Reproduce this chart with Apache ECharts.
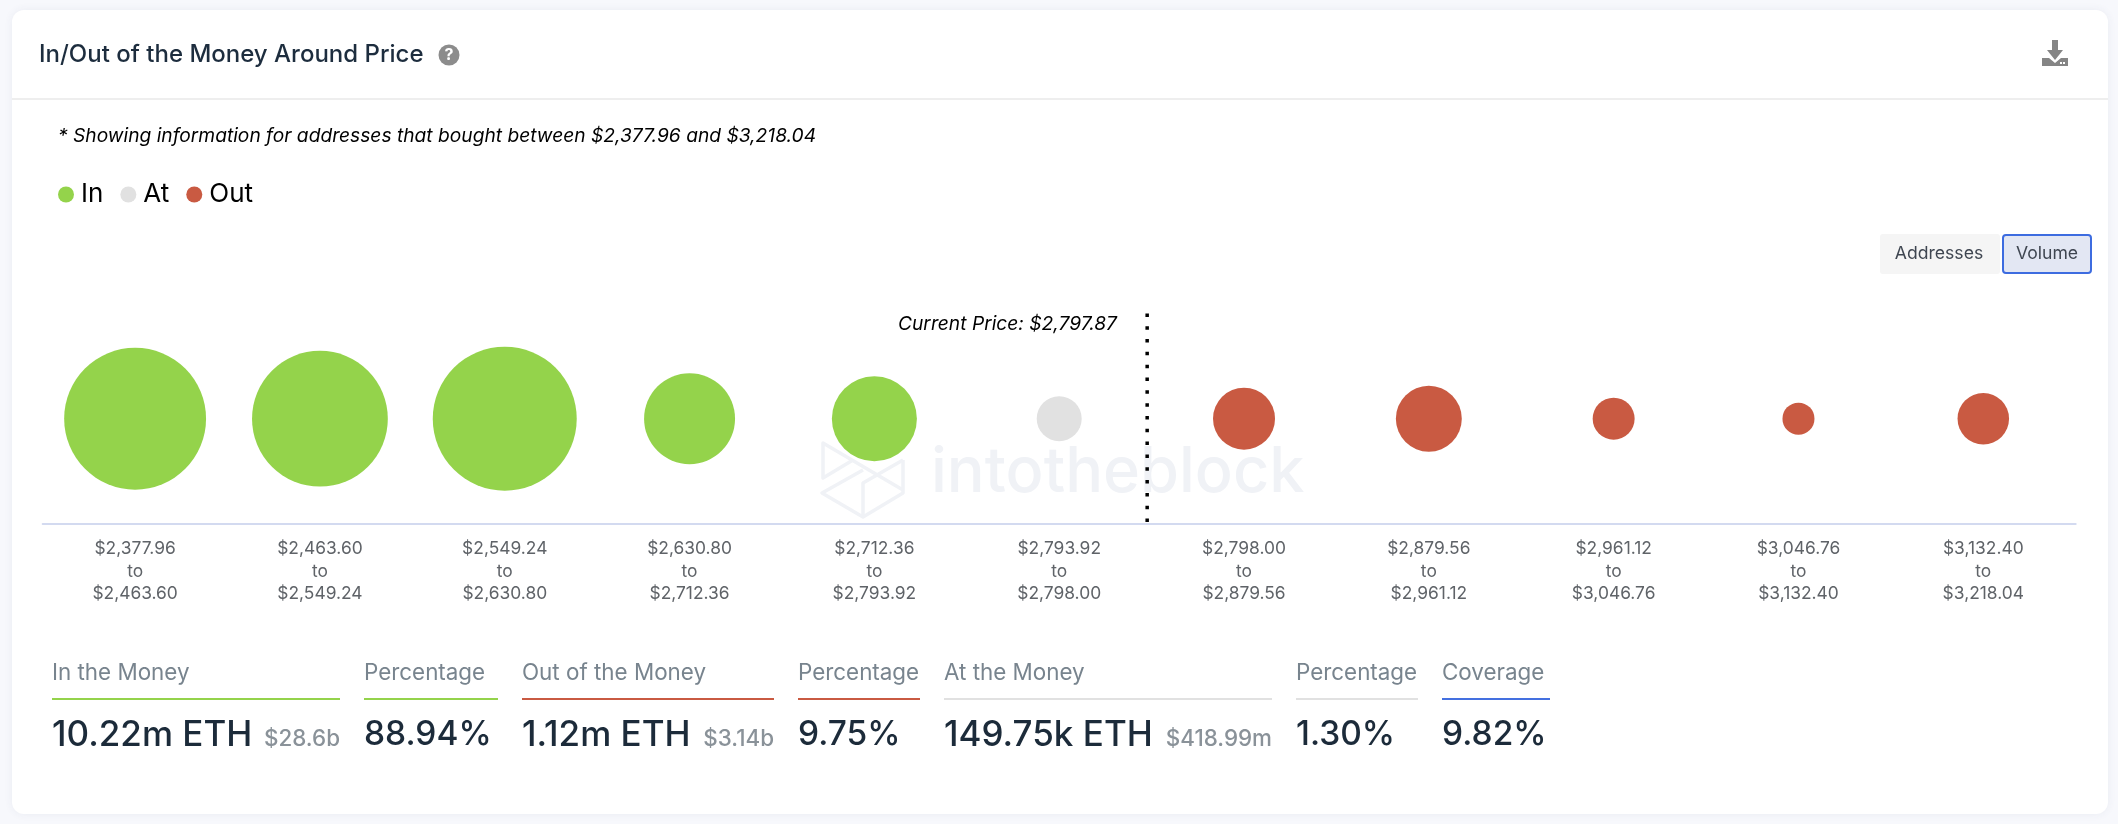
<!DOCTYPE html>
<html>
<head>
<meta charset="utf-8">
<style>html,body{margin:0;padding:0;background:#f7f8fc}#c{width:2118px;height:824px}</style>
<script src="https://cdn.jsdelivr.net/npm/echarts@6/dist/echarts.min.js"></script>
</head>
<body>
<div id="c"></div>
<script>
const rangeStart = ['$2,377.96','$2,463.60','$2,549.24','$2,630.80','$2,712.36','$2,793.92','$2,798.00','$2,879.56','$2,961.12','$3,046.76','$3,132.40'];
const rangeEnd   = ['$2,463.60','$2,549.24','$2,630.80','$2,712.36','$2,793.92','$2,798.00','$2,879.56','$2,961.12','$3,046.76','$3,132.40','$3,218.04'];
// Estimated volume per band, thousand ETH
const inVolume  = [2970,2650,3085,935,785,null,null,null,null,null,null];
const atVolume  = [null,null,null,null,null,150,null,null,null,null,null];
const outVolume = [null,null,null,null,null,null,345,405,125,62,213];
const seriesNames = ['In','At','Out'];
const currentPriceLabel = 'Current Price: $2,797.87';
const currentPriceBandPosition = 5.976;
const titleText = 'In/Out of the Money Around Price';
const noteText = '* Showing information for addresses that bought between $2,377.96 and $3,218.04';
const toggleLabels = ['Addresses','Volume'];
const statHeaders = ['In the Money','Percentage','Out of the Money','Percentage','At the Money','Percentage','Coverage'];
const statValues  = ['10.22m ETH','88.94%','1.12m ETH','9.75%','149.75k ETH','1.30%','9.82%'];
const statSubs    = ['$28.6b','','$3.14b','','$418.99m','',''];

const GREEN='#94d34b', GREY='#e1e1e1', RED='#c95a42', BLUE='#4470e0';
const FONT='Inter';
const statBox = [[52,340,GREEN],[364,498,GREEN],[522,774,RED],[798,920,RED],[944,1272,GREY],[1296,1418,GREY],[1442,1550,BLUE]];

const categories = rangeStart.map((s,i)=>s+'\nto\n'+rangeEnd[i]);
const toPoints = arr => arr.map((v,i)=>v==null?null:[i,0,v]).filter(Boolean);
const bubbleSize = p => 45*Math.pow(p[2]/150,1/2.6);

const g = [];
g.push({type:'rect',z:-5,shape:{x:12,y:10,width:2096,height:804,r:12},style:{fill:'#fff',shadowBlur:8,shadowColor:'rgba(60,70,110,0.07)'}});
g.push({type:'rect',z:-4,shape:{x:12,y:98,width:2096,height:2},style:{fill:'#eeeeee'}});
// watermark
const wm={fill:'none',stroke:'#f0f2f6',lineWidth:3.5,lineJoin:'round'};
[[[853,460],[823,478],[823,443],[903,490]],
 [[903,460],[903,493],[863,517],[822,493],[863,470]],
 [[863,517],[863,483],[903,460]]].forEach(pts=>g.push({type:'polyline',z:-3,shape:{points:pts},style:wm}));
g.push({type:'text',z:-3,x:931,y:473,style:{text:'intotheblock',font:'500 63px '+FONT,fill:'#f0f2f6',verticalAlign:'middle'}});
// header
g.push({type:'text',z:5,x:39,y:55,style:{text:titleText,font:'500 24px '+FONT,fill:'#1d2d3e',verticalAlign:'middle'}});
g.push({type:'circle',z:5,shape:{cx:449,cy:55,r:10.5},style:{fill:'#8c8c8c'}});
g.push({type:'text',z:6,x:449,y:55.5,style:{text:'?',font:'700 16px '+FONT,fill:'#fff',align:'center',verticalAlign:'middle'}});
g.push({type:'polygon',z:5,shape:{points:[[2042,58],[2049,58],[2055,63],[2061,58],[2068,58],[2068,66],[2042,66]]},style:{fill:'#858585'}});
g.push({type:'polygon',z:5,shape:{points:[[2052,40],[2058,40],[2058,50],[2063,50],[2055,60],[2047,50],[2052,50]]},style:{fill:'#858585'}});
g.push({type:'rect',z:6,shape:{x:2060,y:62,width:2,height:2},style:{fill:'#fff'}});
g.push({type:'rect',z:6,shape:{x:2063,y:62,width:2,height:2},style:{fill:'#fff'}});
g.push({type:'text',z:5,x:58,y:136,style:{text:noteText,font:'italic 400 19.2px '+FONT,fill:'#000',verticalAlign:'middle'}});
// toggle
g.push({type:'rect',z:5,shape:{x:1880,y:234,width:120,height:40,r:3},style:{fill:'#f5f5f5'}});
g.push({type:'text',z:6,x:1939,y:254,style:{text:toggleLabels[0],font:'400 17.6px '+FONT,fill:'#3f4651',align:'center',verticalAlign:'middle'}});
g.push({type:'rect',z:5,shape:{x:2003,y:235,width:88,height:38,r:3},style:{fill:'#e3e7f3',stroke:'#3d6ce0',lineWidth:2}});
g.push({type:'text',z:6,x:2047,y:254,style:{text:toggleLabels[1],font:'400 17.6px '+FONT,fill:'#3f4651',align:'center',verticalAlign:'middle'}});
// current price
g.push({type:'text',z:5,x:1117,y:324,style:{text:currentPriceLabel,font:'italic 400 19.2px '+FONT,fill:'#000',align:'right',verticalAlign:'middle'}});
// stats
statBox.forEach((b,i)=>{
  const valueSize = statSubs[i] ? 35 : 33.5;
  g.push({type:'text',z:5,x:b[0],y:673,style:{text:statHeaders[i],font:'400 22.4px '+FONT,fill:'#78848e',verticalAlign:'middle'}});
  g.push({type:'rect',z:5,shape:{x:b[0],y:698,width:b[1]-b[0],height:2},style:{fill:b[2]}});
  g.push({type:'text',z:5,x:b[0],y:735,style:{text:statValues[i],font:'500 '+valueSize+'px '+FONT,fill:'#1c2b3a',verticalAlign:'middle'}});
  if(statSubs[i]) g.push({type:'text',z:5,x:b[1],y:739,style:{text:statSubs[i],font:'500 22.4px '+FONT,fill:'#8a9299',align:'right',verticalAlign:'middle'}});
});

const chart = echarts.init(document.getElementById('c'),null,{renderer:'canvas',width:2118,height:824});
const scatter=(name,arr,color)=>({name,type:'scatter',data:toPoints(arr),symbol:'circle',symbolSize:bubbleSize,itemStyle:{color,opacity:1},z:3,silent:true});
chart.setOption({
  animation:false,
  backgroundColor:'#f7f8fc',
  textStyle:{fontFamily:FONT},
  graphic:{elements:g},
  legend:{left:53,top:176.5,data:seriesNames,icon:'circle',itemWidth:16,itemHeight:16,itemGap:17,
    textStyle:{fontSize:26,color:'#000',fontFamily:FONT,padding:[0,0,0,2]},selectedMode:false},
  grid:{left:42.7,right:42.3,top:313.4,height:210.6,containLabel:false},
  xAxis:[
    {type:'category',data:categories,boundaryGap:true,position:'bottom',
     axisLine:{onZero:false,lineStyle:{color:'#d3daf0',width:2}},axisTick:{show:false},splitLine:{show:false},
     axisLabel:{interval:0,margin:14,color:'#5f6368',fontSize:17.4,lineHeight:22.5,fontFamily:FONT,align:'center'}},
    {type:'value',show:false,min:0,max:11,splitLine:{show:false}}
  ],
  yAxis:{type:'value',show:false,min:-1,max:1,splitLine:{show:false}},
  series:[
    scatter('In',inVolume,GREEN),
    scatter('At',atVolume,GREY),
    scatter('Out',outVolume,RED),
    {type:'line',xAxisIndex:1,silent:true,symbol:'none',z:4,
     data:[[currentPriceBandPosition,1],[currentPriceBandPosition,-1]],
     lineStyle:{color:'#000',width:3.5,type:[3.5,9.32],cap:'butt'}}
  ]
});
</script>
</body>
</html>
